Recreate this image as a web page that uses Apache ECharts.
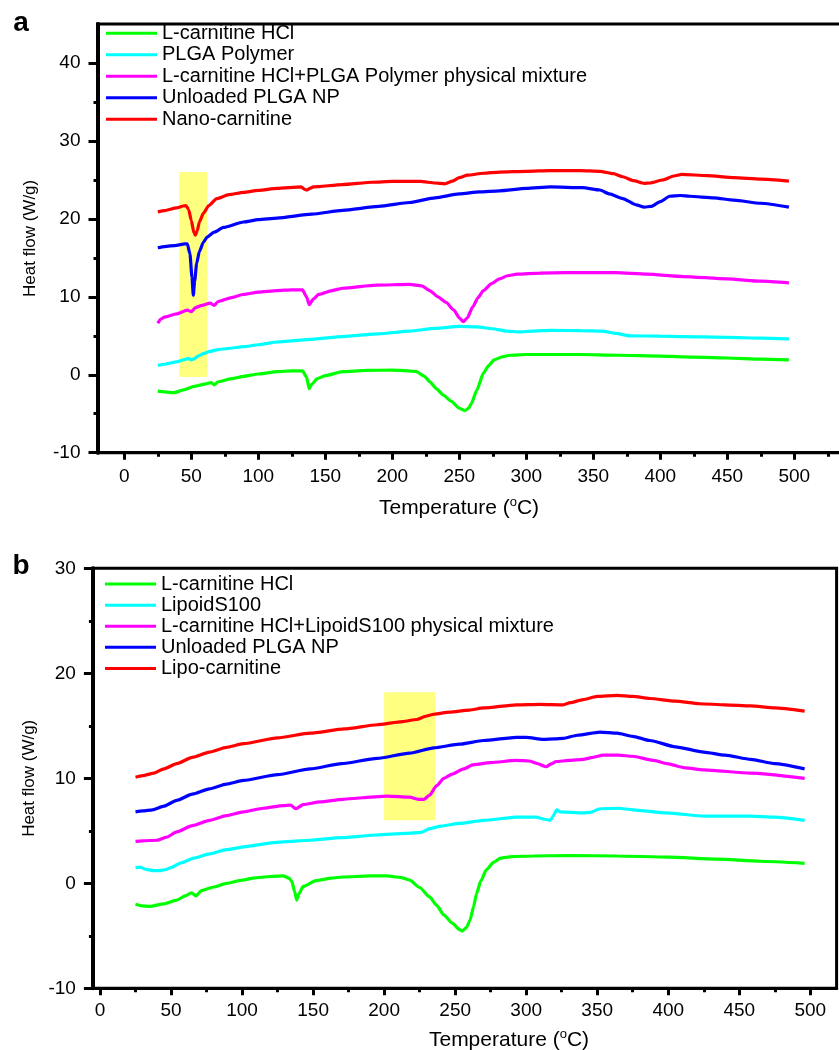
<!DOCTYPE html>
<html>
<head>
<meta charset="utf-8">
<title>DSC thermograms</title>
<script src="https://cdn.jsdelivr.net/npm/echarts@6.0.0/dist/echarts.min.js"></script>
<style>
    html, body { margin: 0; padding: 0; background: #fff; }
    #main { width: 839px; height: 1050px; }
</style>
</head>
<body>
<div id="main"></div>
<script>
// [temperature (°C), heat flow (W/g)]
// panel a
var aCarnitine = [[25,-2.1],[30,-2.2],[37,-2.3],[45,-1.9],[52,-1.5],[60,-1.2],[65,-1.0],[67,-1.3],[70,-0.9],[80,-0.5],[89,-0.2],[100,0.1],[114,0.4],[125,0.5],[133,0.5],[136,-0.3],[138,-1.8],[140,-1.2],[144,-0.5],[150,-0.1],[163,0.4],[180,0.55],[200,0.6],[212,0.5],[218,0.4],[224,-0.2],[228,-0.9],[233,-1.8],[238,-2.6],[244,-3.4],[250,-4.3],[254,-4.6],[257,-4.3],[259,-3.7],[263,-2.0],[268,0.2],[272,1.2],[276,1.9],[282,2.3],[288,2.5],[300,2.6],[318,2.6],[340,2.6],[368,2.5],[400,2.4],[417,2.3],[450,2.15],[475,2.0],[496,1.9]];
var aPolymer = [[25,1.2],[30,1.35],[39,1.65],[45,1.95],[48,2.1],[50,1.9],[52,2.05],[55,2.4],[59,2.7],[64,3.0],[69,3.2],[79,3.4],[89,3.6],[100,3.85],[114,4.2],[140,4.55],[163,4.9],[190,5.25],[213,5.6],[232,5.95],[250,6.2],[263,6.15],[275,5.9],[285,5.6],[295,5.5],[305,5.6],[318,5.7],[340,5.65],[357,5.6],[367,5.3],[377,5.0],[400,4.95],[417,4.9],[450,4.8],[475,4.7],[496,4.6]];
var aMixture = [[25,6.6],[27,7.1],[30,7.4],[39,7.8],[47,8.3],[50,8.1],[53,8.6],[58,8.9],[64,9.2],[67,8.9],[70,9.4],[80,9.9],[89,10.3],[100,10.6],[114,10.8],[125,10.9],[133,10.9],[136,10.0],[138,9.0],[141,9.7],[145,10.3],[155,10.8],[163,11.1],[188,11.5],[213,11.6],[222,11.4],[228,10.8],[234,10.0],[240,9.3],[246,8.3],[250,7.3],[253,6.8],[256,7.3],[260,8.7],[264,9.9],[268,10.8],[274,11.7],[280,12.3],[286,12.7],[293,12.9],[310,13.05],[330,13.1],[350,13.1],[367,13.1],[390,12.9],[417,12.6],[450,12.3],[475,12.0],[496,11.8]];
var aUnloaded = [[25,16.3],[30,16.45],[39,16.6],[45,16.8],[47,16.8],[49,15.5],[50.5,12.5],[51.5,10.2],[52.5,12.0],[54,14.3],[56,15.8],[59,17.0],[62,17.7],[67,18.3],[74,18.9],[89,19.6],[100,19.9],[114,20.1],[140,20.6],[163,21.1],[190,21.6],[213,22.1],[232,22.7],[250,23.2],[265,23.45],[280,23.6],[300,23.9],[318,24.1],[342,24.0],[355,23.7],[362,23.2],[372,22.6],[382,21.8],[388,21.5],[393,21.6],[400,22.2],[407,22.9],[415,23.0],[422,22.9],[440,22.7],[455,22.4],[475,22.0],[496,21.5]];
var aNano = [[25,20.9],[30,21.05],[39,21.4],[44,21.65],[46,21.7],[48,21.2],[50,19.8],[52,18.2],[53,17.9],[54.5,18.5],[56,19.6],[59,20.7],[63,21.7],[69,22.6],[78,23.1],[89,23.4],[100,23.65],[114,23.9],[132,24.1],[134.5,23.8],[136,23.7],[139,23.95],[141,24.1],[163,24.4],[185,24.7],[200,24.8],[221,24.8],[232,24.6],[239,24.5],[245,24.85],[250,25.3],[256,25.6],[268,25.85],[280,26.0],[300,26.1],[318,26.2],[340,26.2],[355,26.1],[365,25.8],[372,25.4],[380,24.9],[388,24.55],[392,24.6],[402,25.0],[410,25.5],[416,25.7],[435,25.55],[455,25.3],[475,25.1],[496,24.85]];

// panel b
var bCarnitine = [[25,-2.0],[30,-2.15],[35,-2.2],[45,-1.95],[54,-1.6],[60,-1.2],[64.5,-0.9],[67.5,-1.2],[71.5,-0.7],[80,-0.35],[89,0.0],[100,0.3],[108,0.5],[120,0.65],[129,0.7],[133,0.5],[135,0.2],[137,-0.8],[138.5,-1.6],[140,-1.0],[143,-0.3],[152,0.25],[163,0.5],[171,0.6],[190,0.7],[202,0.7],[212,0.55],[218,0.3],[225,-0.4],[232,-1.3],[237,-2.1],[242,-3.0],[248,-3.8],[253,-4.4],[255,-4.55],[258,-4.2],[260.5,-3.5],[263,-2.2],[265,-1.0],[268,0.2],[272,1.3],[277,2.0],[282,2.4],[290,2.55],[305,2.6],[330,2.65],[364,2.6],[400,2.5],[434,2.3],[465,2.1],[496,1.9]];
var bLipoid = [[25,1.5],[28,1.55],[33,1.3],[38,1.2],[42,1.2],[46,1.3],[50,1.5],[57,1.95],[66,2.4],[77,2.8],[89,3.2],[105,3.55],[124,3.9],[140,4.05],[148,4.1],[170,4.35],[195,4.6],[215,4.75],[226,4.85],[232,5.2],[240,5.45],[253,5.7],[270,6.0],[293,6.3],[307,6.3],[313,6.1],[317,6.0],[319,6.4],[321.5,7.0],[324,6.8],[340,6.7],[345,6.75],[352,7.1],[365,7.15],[375,7.0],[399,6.7],[425,6.4],[440,6.4],[458,6.4],[475,6.3],[496,6.0]];
var bMixture = [[25,4.0],[30,4.05],[40,4.1],[47,4.4],[54,4.9],[65,5.5],[77,6.0],[89,6.45],[101,6.8],[115,7.15],[129,7.4],[134,7.45],[138,7.1],[143,7.5],[155,7.75],[171,8.0],[185,8.15],[202,8.3],[218,8.2],[224,8.0],[228,8.0],[232,8.4],[237,9.3],[242,10.0],[248,10.4],[256,10.9],[263,11.3],[275,11.5],[293,11.7],[302,11.65],[308,11.4],[314,11.1],[318,11.4],[321,11.6],[330,11.7],[340,11.8],[347,12.0],[354,12.2],[365,12.2],[375,12.1],[390,11.7],[399,11.4],[412,11.0],[425,10.8],[458,10.5],[496,10.0]];
var bUnloaded = [[25,6.8],[30,6.9],[37,7.0],[45,7.35],[54,7.9],[65,8.5],[77,9.0],[89,9.45],[101,9.8],[125,10.35],[148,10.9],[170,11.4],[195,11.9],[218,12.4],[235,12.9],[253,13.25],[270,13.6],[293,13.9],[300,13.9],[312,13.7],[320,13.75],[326,13.8],[336,14.1],[352,14.4],[364,14.3],[375,14.0],[387,13.6],[405,13.0],[425,12.5],[440,12.2],[458,11.8],[475,11.4],[496,10.9]];
var bLipo = [[25,10.1],[30,10.25],[38,10.5],[45,10.9],[54,11.4],[65,12.0],[77,12.5],[89,12.95],[101,13.3],[125,13.85],[148,14.3],[172,14.7],[195,15.1],[213,15.4],[223,15.6],[229,15.9],[235,16.1],[246,16.3],[260,16.5],[270,16.7],[293,17.0],[310,17.05],[326,17.0],[331,17.2],[340,17.5],[350,17.8],[364,17.9],[375,17.8],[387,17.6],[405,17.35],[422,17.1],[440,17.0],[458,16.9],[475,16.7],[496,16.4]];

var namesA = ['L-carnitine HCl', 'PLGA Polymer', 'L-carnitine HCl+PLGA Polymer physical mixture', 'Unloaded PLGA NP', 'Nano-carnitine'];
var namesB = ['L-carnitine HCl', 'LipoidS100', 'L-carnitine HCl+LipoidS100 physical mixture', 'Unloaded PLGA NP', 'Lipo-carnitine'];
var colors = ['#00ff00', '#00ffff', '#ff00ff', '#0000ff', '#ff0000'];

// highlighted ranges [xFrom, xTo, yFrom, yTo]
var aHighlight = [41, 62, -0.3, 26];
var bHighlight = [200, 236, 6, 18.2];

var xMajor = [0, 50, 100, 150, 200, 250, 300, 350, 400, 450, 500];
var xMinor = [25, 75, 125, 175, 225, 275, 325, 375, 425, 475, 525];
var aYMajor = [-10, 0, 10, 20, 30, 40];
var aYMinor = [-5, 5, 15, 25, 35];
var bYMajor = [-10, 0, 10, 20, 30];
var bYMinor = [-5, 5, 15, 25];

var FONT = '"Liberation Sans", Arial, sans-serif';

var chart = echarts.init(document.getElementById('main'));

var makeXAxis = function(grid, min, max, values, minor, margin){
    return {
        gridIndex: grid,
        type: 'value',
        position: 'bottom',
        min: min,
        max: max,
        axisLine: {show: !minor, onZero: false, lineStyle: {color: '#000', width: 3}},
        axisTick: {
            show: true,
            customValues: values,
            length: minor ? 4 : 7,
            lineStyle: {color: '#000', width: 3}
        },
        axisLabel: {
            show: !minor,
            customValues: values,
            margin: margin || 13,
            color: '#000',
            fontSize: 19,
            fontFamily: FONT
        },
        splitLine: {show: false}
    };
};

var makeYAxis = function(grid, min, max, values, minor, gap){
    var axis = {
        gridIndex: grid,
        type: 'value',
        position: 'left',
        min: min,
        max: max,
        axisLine: {show: !minor, onZero: false, lineStyle: {color: '#000', width: 4}},
        axisTick: {
            show: true,
            customValues: values,
            length: minor ? 4 : 9,
            lineStyle: {color: '#000', width: 3}
        },
        axisLabel: {
            show: !minor,
            customValues: values,
            margin: 17,
            color: '#000',
            fontSize: 19,
            fontFamily: FONT
        },
        splitLine: {show: false}
    };
    if(!minor){
        axis.name = 'Heat flow (W/g)';
        axis.nameLocation = 'middle';
        axis.nameGap = gap;
        axis.nameTextStyle = {color: '#000', fontSize: 17, fontFamily: FONT};
    }
    return axis;
};

var makeSeries = function(name, data, idx, axisIdx, highlight){
    var s = {
        name: name,
        type: 'line',
        xAxisIndex: axisIdx,
        yAxisIndex: axisIdx,
        data: data,
        showSymbol: false,
        smooth: 0.2,
        smoothMonotone: 'x',
        color: colors[idx],
        lineStyle: {width: 3.2, color: colors[idx]},
        z: 3
    };
    if(highlight){
        s.markArea = {
            silent: true,
            itemStyle: {color: '#ffff80'},
            data: [[
                {xAxis: highlight[0], yAxis: highlight[2]},
                {xAxis: highlight[1], yAxis: highlight[3]}
            ]]
        };
    }
    return s;
};

var series = [];
var setA = [aCarnitine, aPolymer, aMixture, aUnloaded, aNano];
var setB = [bCarnitine, bLipoid, bMixture, bUnloaded, bLipo];
for(var i = 0; i < 5; i++){
    series.push(makeSeries(namesA[i], setA[i], i, 0, i == 0 ? aHighlight : null));
}
for(var j = 0; j < 5; j++){
    series.push(makeSeries(namesB[j], setB[j], j, 2, j == 0 ? bHighlight : null));
}

var legendStyle = function(names, left, top, lh){
    return {
        data: names,
        orient: 'vertical',
        left: left,
        top: top,
        padding: 0,
        itemGap: 0,
        itemWidth: 51,
        itemHeight: 3,
        icon: 'rect',
        selectedMode: false,
        textStyle: {color: '#000', fontSize: 20, lineHeight: lh, fontFamily: FONT}
    };
};

var titleText = function(x, y){
    return {
        type: 'text',
        x: x,
        y: y,
        style: {
            text: '{n|Temperature (}{s|o}{n|C)}',
            align: 'center',
            verticalAlign: 'middle',
            fill: '#000',
            rich: {
                n: {fontSize: 21, lineHeight: 24, fontFamily: FONT, color: '#000'},
                s: {fontSize: 13, lineHeight: 24, fontFamily: FONT, color: '#000', verticalAlign: 'top'}
            }
        }
    };
};

chart.setOption({
    animation: false,
    backgroundColor: '#fff',
    grid: [
        {left: 97.5, top: 24, width: 750.4, height: 428.7, show: true, borderColor: '#000', borderWidth: 3, outerBoundsMode: 'none'},
        {left: 92.9, top: 568.3, width: 743.7, height: 420, show: true, borderColor: '#000', borderWidth: 3, outerBoundsMode: 'none'}
    ],
    xAxis: [
        makeXAxis(0, -20, 540, xMajor, false, 15),
        makeXAxis(0, -20, 540, xMinor, true),
        makeXAxis(1, -5, 518.5, xMajor, false, 13),
        makeXAxis(1, -5, 518.5, xMinor, true)
    ],
    yAxis: [
        makeYAxis(0, -10, 45, aYMajor, false, 59),
        makeYAxis(0, -10, 45, aYMinor, true),
        makeYAxis(1, -10, 30, bYMajor, false, 54),
        makeYAxis(1, -10, 30, bYMinor, true)
    ],
    legend: [
        legendStyle(namesA, 106, 22.5, 21.5),
        legendStyle(namesB, 105, 573.5, 21.1)
    ],
    graphic: [
        {type: 'text', x: 21, y: 23, style: {text: 'a', align: 'center', verticalAlign: 'middle', fill: '#000', font: 'bold 28px ' + FONT}},
        {type: 'text', x: 21, y: 566, style: {text: 'b', align: 'center', verticalAlign: 'middle', fill: '#000', font: 'bold 28px ' + FONT}},
        titleText(459, 508),
        titleText(509, 1040)
    ],
    series: series
});
</script>
</body>
</html>
